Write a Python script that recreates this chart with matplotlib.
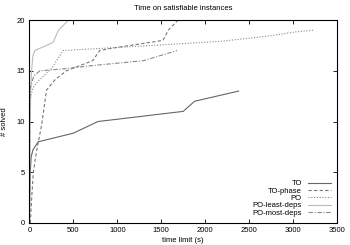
import matplotlib
matplotlib.use("Agg")
import matplotlib.pyplot as plt

plt.rcParams['font.family'] = ['Liberation Sans', 'DejaVu Sans']

# values (time limit in s, instances solved)
to_t = [0, 5, 10, 20, 40, 100, 500, 780, 1750, 1880, 2380]
to_n = [0, 3, 5, 6.5, 7.2, 8.0, 8.85, 10.0, 11.0, 12.0, 13.0]

tophase_t = [10, 30, 45, 80, 140, 195, 290, 420, 720, 800, 920, 1520, 1580, 1690]
tophase_n = [0, 3, 5, 7, 9.7, 13.1, 14.1, 15.0, 16.0, 17.0, 17.2, 18.0, 19.0, 20.0]

po_t = [0, 5, 15, 40, 100, 250, 385, 1000, 2170, 2740, 3040, 3230]
po_n = [0, 10, 12.5, 13.3, 14.0, 15.2, 17.0, 17.3, 17.9, 18.45, 18.85, 19.0]

least_t = [0, 5, 15, 25, 40, 63, 270, 330, 445]
least_n = [0, 10, 13, 15, 16.5, 17.0, 17.8, 19.0, 20.0]

most_t = [0, 5, 10, 50, 120, 400, 700, 1300, 1680]
most_n = [0, 12, 13.3, 14.5, 15.0, 15.2, 15.5, 16.0, 17.0]

fig = plt.figure(figsize=(3.5, 2.45), dpi=100)
ax = fig.add_axes([0.084, 0.09, 0.879, 0.828])

ax.plot(to_t, to_n, color='#666666', lw=0.8, ls='-', label='TO')
ax.plot(tophase_t, tophase_n, color='#777777', lw=0.8, ls=(0, (3, 2)), label='TO-phase')
ax.plot(po_t, po_n, color='#888888', lw=0.8, ls=(0, (1, 1.5)), label='PO')
ax.plot(least_t, least_n, color='#bbbbbb', lw=0.8, ls='-', label='PO-least-deps')
ax.plot(most_t, most_n, color='#888888', lw=0.8, ls=(0, (4, 1.5, 1, 1.5)), label='PO-most-deps')

ax.set_xlim(0, 3500)
ax.set_ylim(0, 20)
ax.set_xticks(range(0, 3501, 500))
ax.set_yticks(range(0, 21, 5))
ax.tick_params(direction='in', length=3, width=0.6, labelsize=5.5, pad=3,
               top=True, right=True)
for s in ax.spines.values():
    s.set_linewidth(0.8)

ax.set_title('Time on satisfiable instances', fontsize=5.5, pad=7)
ax.set_xlabel('time limit (s)', fontsize=5.5, labelpad=2)
ax.set_ylabel('# solved', fontsize=5.5, labelpad=6)

ax.legend(loc='lower right', markerfirst=False, frameon=False, fontsize=5.5,
          handlelength=3.0, handletextpad=0.8, labelspacing=0.0,
          borderaxespad=0.4)

fig.savefig('out.png', dpi=100)
